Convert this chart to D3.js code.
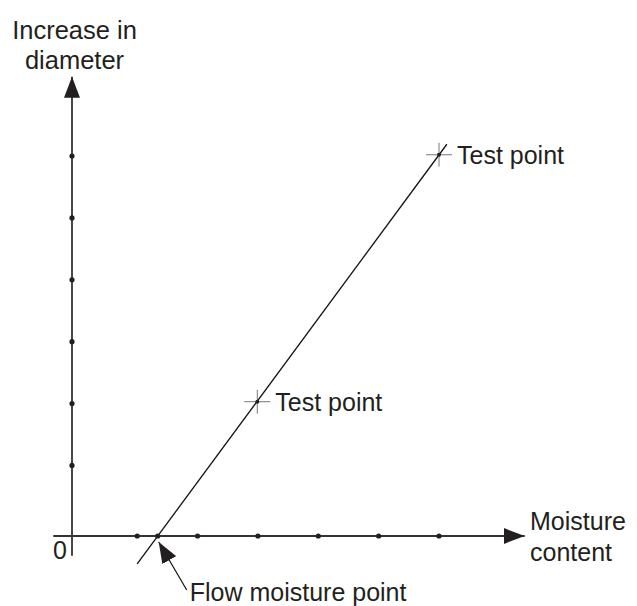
<!DOCTYPE html>
<html lang="en">
<head>
<meta charset="utf-8">
<script src="https://d3js.org/d3.v7.min.js"></script>
<style>
  body { margin: 0; background: #fff; }
  svg text { font-family: "Liberation Sans", Arial, Helvetica, sans-serif; fill: #231f20; }
</style>
</head>
<body>
<svg id="chart" width="637" height="606"></svg>
<script>
// values (arbitrary units, origin = 0)
const xTicks = [1.08, 2.08, 3.08, 4.08, 5.08, 6.08];
const yTicks = [1.14, 2.14, 3.14, 4.14, 5.14, 6.14];
const testPoints = [{m: 3.07, d: 2.17}, {m: 6.08, d: 6.16}];
const flowPoint = {m: 1.42, d: 0};
const lineEnds = [{m: 1.08, d: -0.45}, {m: 6.21, d: 6.33}];
const xAxisExtent = [-0.31, 7.5];
const yAxisExtent = [-0.32, 7.42];

const svg = d3.select("#chart");
const ink = "#231f20";

const x = d3.scaleLinear().domain([0, 6.08]).range([72, 439]);
const y = d3.scaleLinear().domain([0, 6.14]).range([536, 156]);

// arrow heads
const defs = svg.append("defs");
defs.append("marker")
    .attr("id", "arr")
    .attr("viewBox", "0 0 21 16")
    .attr("refX", 21).attr("refY", 8)
    .attr("markerWidth", 21).attr("markerHeight", 16)
    .attr("markerUnits", "userSpaceOnUse")
    .attr("orient", "auto")
  .append("path")
    .attr("d", "M0,0 L21,8 L0,16 Z")
    .attr("fill", ink);

// axes
svg.append("line")
    .attr("x1", x(xAxisExtent[0])).attr("y1", y(0))
    .attr("x2", x(xAxisExtent[1])).attr("y2", y(0))
    .attr("stroke", "#333").attr("stroke-width", 1.8)
    .attr("marker-end", "url(#arr)");
svg.append("line")
    .attr("x1", x(0)).attr("y1", y(yAxisExtent[0]))
    .attr("x2", x(0)).attr("y2", y(yAxisExtent[1]))
    .attr("stroke", "#333").attr("stroke-width", 1.8)
    .attr("marker-end", "url(#arr)");

// tick dots
svg.selectAll(".xdot").data(xTicks).enter().append("circle")
    .attr("class", "xdot")
    .attr("cx", d => x(d)).attr("cy", y(0)).attr("r", 2.6).attr("fill", ink);
svg.selectAll(".ydot").data(yTicks).enter().append("circle")
    .attr("class", "ydot")
    .attr("cx", x(0)).attr("cy", d => y(d)).attr("r", 2.6).attr("fill", ink);

// fitted line
svg.append("line")
    .attr("x1", x(lineEnds[0].m)).attr("y1", y(lineEnds[0].d))
    .attr("x2", x(lineEnds[1].m)).attr("y2", y(lineEnds[1].d))
    .attr("stroke", "#111").attr("stroke-width", 1.3);

// flow point dot
svg.append("circle")
    .attr("cx", x(flowPoint.m)).attr("cy", y(flowPoint.d)).attr("r", 2.6).attr("fill", ink);

// test point crosses
const tp = svg.selectAll(".tp").data(testPoints).enter().append("g")
    .attr("class", "tp")
    .attr("transform", d => `translate(${x(d.m)},${y(d.d)})`);
tp.append("line").attr("x1", -13).attr("x2", 13).attr("y1", 0).attr("y2", 0)
    .attr("stroke", "#777").attr("stroke-width", 1);
tp.append("line").attr("x1", 0).attr("x2", 0).attr("y1", -12).attr("y2", 12)
    .attr("stroke", "#777").attr("stroke-width", 1);
tp.append("circle").attr("r", 2).attr("fill", ink);
tp.append("text")
    .attr("x", 18).attr("y", 9)
    .attr("font-size", 25)
    .text("Test point");

// flow moisture point arrow
const fx = x(flowPoint.m) + 1, fy = y(flowPoint.d) + 6;
svg.append("line")
    .attr("x1", fx + 28).attr("y1", fy + 48)
    .attr("x2", fx).attr("y2", fy)
    .attr("stroke", "#111").attr("stroke-width", 1.2)
    .attr("marker-end", "url(#arr)");
svg.append("text")
    .attr("x", fx + 31).attr("y", 601)
    .attr("font-size", 25)
    .text("Flow moisture point");

// axis labels
svg.append("text").attr("x", 74.5).attr("y", 38.5)
    .attr("text-anchor", "middle").attr("font-size", 25.5).text("Increase in");
svg.append("text").attr("x", 74.5).attr("y", 69)
    .attr("text-anchor", "middle").attr("font-size", 25.5).text("diameter");
svg.append("text").attr("x", 530).attr("y", 530)
    .attr("font-size", 25).text("Moisture");
svg.append("text").attr("x", 530).attr("y", 561)
    .attr("font-size", 25).text("content");
svg.append("text").attr("x", 67).attr("y", 559)
    .attr("text-anchor", "end").attr("font-size", 25).text("0");
</script>
</body>
</html>
